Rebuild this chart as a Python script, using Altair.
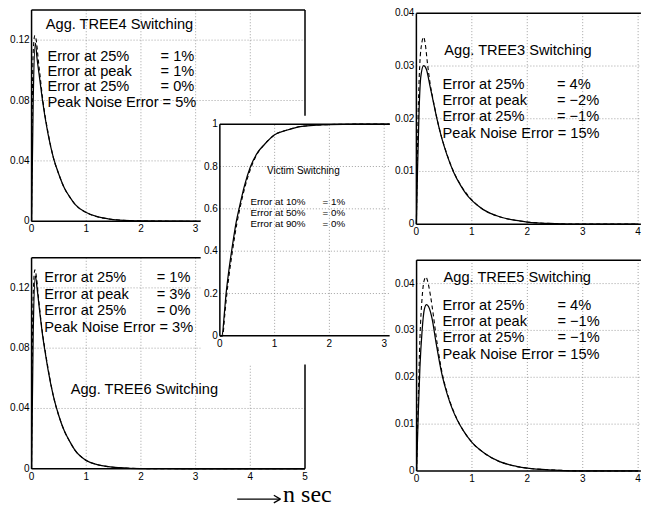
import altair as alt
import pandas as pd

# ---------------- data ----------------
# Agg. TREE4 panel
T4_SOLID_T = [0, 0.03, 0.07, 0.1, 0.15, 0.2, 0.3, 0.4, 0.5, 0.6, 0.7, 0.8, 1.0, 1.2, 1.4, 1.6, 1.8, 2.0, 2.5, 3.0, 4.0, 5.0]
T4_SOLID_V = [0, 0.08, 0.118, 0.108, 0.094, 0.08, 0.058, 0.042, 0.031, 0.022, 0.016, 0.011, 0.0058, 0.003, 0.0016, 0.0008, 0.0004, 0.0002, 0.00005, 0, 0, 0]
T4_DASH_T = [0, 0.01, 0.03, 0.06, 0.09, 0.12, 0.16, 0.2, 0.3, 0.4, 0.5, 0.6, 0.7, 0.8, 1.0, 1.2, 1.4, 1.6, 1.8, 2.0, 2.5, 3.0, 4.0, 5.0]
T4_DASH_V = [0, 0.06, 0.112, 0.123, 0.119, 0.108, 0.095, 0.082, 0.059, 0.042, 0.031, 0.022, 0.016, 0.011, 0.0058, 0.003, 0.0016, 0.0008, 0.0004, 0.0002, 0.00005, 0, 0, 0]

# Agg. TREE6 panel
T6_SOLID_T = [0, 0.03, 0.07, 0.1, 0.15, 0.2, 0.25, 0.3, 0.4, 0.5, 0.6, 0.7, 0.8, 1.0, 1.2, 1.4, 1.6, 1.8, 2.0, 2.5, 3.0, 4.0, 5.0]
T6_SOLID_V = [0, 0.09, 0.128, 0.12, 0.104, 0.089, 0.077, 0.066, 0.048, 0.035, 0.025, 0.018, 0.012, 0.0055, 0.0028, 0.0014, 0.0007, 0.0003, 0.00015, 0.00003, 0, 0, 0]
T6_DASH_T = [0, 0.01, 0.03, 0.06, 0.09, 0.12, 0.16, 0.2, 0.25, 0.3, 0.4, 0.5, 0.6, 0.7, 0.8, 1.0, 1.2, 1.4, 1.6, 1.8, 2.0, 2.5, 3.0, 4.0, 5.0]
T6_DASH_V = [0, 0.06, 0.115, 0.132, 0.127, 0.116, 0.102, 0.09, 0.078, 0.067, 0.048, 0.035, 0.025, 0.018, 0.012, 0.0055, 0.0028, 0.0014, 0.0007, 0.0003, 0.00015, 0.00003, 0, 0, 0]

# Agg. TREE3 panel
T3_SOLID_T = [0, 0.02, 0.05, 0.08, 0.13, 0.18, 0.25, 0.3, 0.37, 0.45, 0.55, 0.67, 0.8, 0.9, 1.0, 1.2, 1.5, 1.8, 2.0, 2.5, 3.0, 4.0]
T3_SOLID_V = [0, 0.01, 0.022, 0.028, 0.0301, 0.0294, 0.026, 0.0235, 0.02, 0.0166, 0.0132, 0.0099, 0.0073, 0.0057, 0.0045, 0.0028, 0.0014, 0.0007, 0.0004, 0.0001, 0, 0]
T3_DASH_T = [0, 0.03, 0.06, 0.1, 0.13, 0.16, 0.2, 0.25, 0.3, 0.37, 0.45, 0.55, 0.67, 0.8, 1.0, 1.2, 1.5, 1.8, 2.0, 2.5, 3.0, 4.0]
T3_DASH_V = [0, 0.02, 0.03, 0.0345, 0.0355, 0.0342, 0.0305, 0.0265, 0.0237, 0.0201, 0.0167, 0.0133, 0.01, 0.0074, 0.0046, 0.0028, 0.0014, 0.0007, 0.0004, 0.0001, 0, 0]

# Agg. TREE5 panel
T5_SOLID_T = [0, 0.03, 0.06, 0.1, 0.14, 0.18, 0.22, 0.28, 0.35, 0.46, 0.55, 0.65, 0.73, 0.85, 1.0, 1.2, 1.5, 1.8, 2.0, 2.5, 3.0, 4.0]
T5_SOLID_V = [0, 0.012, 0.022, 0.03, 0.0345, 0.0355, 0.035, 0.0325, 0.0275, 0.0205, 0.0165, 0.0131, 0.011, 0.0085, 0.0061, 0.004, 0.002, 0.001, 0.0006, 0.0002, 0, 0]
T5_DASH_T = [0, 0.03, 0.06, 0.1, 0.14, 0.17, 0.2, 0.25, 0.3, 0.35, 0.46, 0.55, 0.65, 0.73, 0.85, 1.0, 1.2, 1.5, 1.8, 2.0, 2.5, 3.0, 4.0]
T5_DASH_V = [0, 0.015, 0.028, 0.037, 0.0408, 0.0414, 0.0405, 0.0375, 0.0335, 0.029, 0.021, 0.0168, 0.0133, 0.0111, 0.0085, 0.0061, 0.004, 0.002, 0.001, 0.0006, 0.0002, 0, 0]

# Victim panel
V_SOLID_T = [0, 0.04, 0.08, 0.11, 0.15, 0.22, 0.3, 0.35, 0.45, 0.56, 0.7, 0.8, 1.0, 1.2, 1.5, 2.0, 2.5, 3.1]
V_SOLID_V = [0, 0, 0.1, 0.19, 0.28, 0.41, 0.54, 0.6, 0.71, 0.8, 0.87, 0.9, 0.95, 0.97, 0.99, 0.998, 1.0, 1.0]
V_DASH_T = [0, 0.05, 0.09, 0.12, 0.16, 0.23, 0.31, 0.36, 0.46, 0.57, 0.7, 0.8, 1.0, 1.2, 1.5, 2.0, 2.5, 3.1]
V_DASH_V = [0, 0, 0.1, 0.18, 0.27, 0.4, 0.53, 0.595, 0.705, 0.795, 0.868, 0.9, 0.95, 0.97, 0.99, 0.998, 1.0, 1.0]

# tick values
T4_XTICKS = [0, 1, 2, 3]
T6_XTICKS = [0, 1, 2, 3, 4, 5]
TREE_YTICKS = [0, 0.04, 0.08, 0.12]
V_XTICKS = [0, 1, 2, 3]
V_YTICKS = [0, 0.2, 0.4, 0.6, 0.8, 1]
R_XTICKS = [0, 1, 2, 3, 4]
R_YTICKS = [0, 0.01, 0.02, 0.03, 0.04]

# annotation texts
T4_ROWS = ["Error at 25%", "Error at peak", "Error at 25%"]
T4_VALS = ["= 1%", "= 1%", "= 0%"]
T4_PEAK = "Peak Noise Error = 5%"
T6_ROWS = ["Error at 25%", "Error at peak", "Error at 25%"]
T6_VALS = ["= 1%", "= 3%", "= 0%"]
T6_PEAK = "Peak Noise Error = 3%"
T3_ROWS = ["Error at 25%", "Error at peak", "Error at 25%"]
T3_VALS = ["= 4%", "= \u22122%", "= \u22121%"]
T3_PEAK = "Peak Noise Error = 15%"
T5_ROWS = ["Error at 25%", "Error at peak", "Error at 25%"]
T5_VALS = ["= 4%", "= \u22121%", "= \u22121%"]
T5_PEAK = "Peak Noise Error = 15%"
V_ROWS = ["Error at 10%", "Error at 50%", "Error at 90%"]
V_VALS = ["= 1%", "= 0%", "= 0%"]

# ---------------- layout ----------------
W, H = 636, 500
FONT = "Liberation Sans"


def X(ix):
    return round((ix - 10) * 0.99, 2)


def Y(iy):
    return round((iy - 9) * 0.968, 2)


def one_row():
    return alt.Data(values=[{"k": 0}])


def panel(cfg):
    sx = alt.Scale(domain=cfg["xdom"], range=[X(cfg["xpix"][0]), X(cfg["xpix"][1])], nice=False, zero=False)
    sy = alt.Scale(domain=cfg["ydom"], range=[Y(cfg["ypix"][0]), Y(cfg["ypix"][1])], nice=False, zero=False)
    x0, x1 = cfg["xdom"]
    y0, y1 = cfg["ydom"]
    bx0, bx1, by0, by1 = cfg.get("bg", (x0, x1, y0, y1))

    def enc_x(f):
        return alt.X(f, scale=sx, axis=None)

    def enc_y(f):
        return alt.Y(f, scale=sy, axis=None)

    layers = []
    layers.append(
        alt.Chart(one_row()).mark_rect(fill="white", strokeWidth=0).encode(
            x=alt.X(datum=bx0, scale=sx, axis=None), x2=alt.datum(bx1),
            y=alt.Y(datum=by0, scale=sy, axis=None), y2=alt.datum(by1))
    )
    grid_style = dict(color="#8c8c8c", strokeDash=[1, 2], strokeWidth=0.8)
    layers.append(
        alt.Chart(pd.DataFrame({"g": cfg["gridx"]})).mark_rule(**grid_style).encode(
            x=enc_x("g:Q"), y=alt.Y(datum=y0, scale=sy, axis=None), y2=alt.datum(y1))
    )
    layers.append(
        alt.Chart(pd.DataFrame({"g": cfg["gridy"]})).mark_rule(**grid_style).encode(
            y=enc_y("g:Q"), x=alt.X(datum=x0, scale=sx, axis=None), x2=alt.datum(x1))
    )
    st, sv = cfg["solid"]
    dt, dv = cfg["dash"]
    layers.append(
        alt.Chart(pd.DataFrame({"t": dt, "v": dv})).mark_line(
            color="black", strokeWidth=1.1, strokeDash=[4, 3], interpolate="monotone").encode(
            x=enc_x("t:Q"), y=enc_y("v:Q"))
    )
    layers.append(
        alt.Chart(pd.DataFrame({"t": st, "v": sv})).mark_line(
            color="black", strokeWidth=1.25, interpolate="monotone").encode(
            x=enc_x("t:Q"), y=enc_y("v:Q"))
    )
    segs = [(x0, x0, y0, y1), (x0, x1, y0, y0), (x0, x1, y1, y1)]
    if cfg["closed"]:
        segs.append((x1, x1, y0, y1))
    layers.append(
        alt.Chart(pd.DataFrame(segs, columns=["a", "a2", "b", "b2"])).mark_rule(
            color="black", strokeWidth=1.5).encode(
            x=enc_x("a:Q"), x2="a2:Q", y=enc_y("b:Q"), y2="b2:Q")
    )
    # tick labels (axes drawn as text through the panel scales)
    layers.append(
        alt.Chart(pd.DataFrame({"g": cfg["xticks"]})).mark_text(
            align="center", baseline="top", dy=3, font=FONT, fontSize=10, color="black").encode(
            x=enc_x("g:Q"), y=alt.Y(datum=y0, scale=sy, axis=None),
            text=alt.Text("g:Q", format="~g"))
    )
    layers.append(
        alt.Chart(pd.DataFrame({"g": cfg["yticks"]})).mark_text(
            align="right", baseline="middle", dx=-2, font=FONT, fontSize=10, color="black").encode(
            y=enc_y("g:Q"), x=alt.X(datum=x0, scale=sx, axis=None),
            text=alt.Text("g:Q", format="~g"))
    )
    for txt in cfg["texts"]:
        df = pd.DataFrame(txt["rows"], columns=["t", "v", "s"])
        layers.append(
            alt.Chart(df).mark_text(align="left", baseline=txt.get("baseline", "middle"),
                                    font=txt.get("font", FONT), fontSize=txt["size"],
                                    color="black").encode(
                x=enc_x("t:Q"), y=enc_y("v:Q"), text="s:N")
        )
    for seg in cfg.get("extra_rules", []):
        df = pd.DataFrame([seg], columns=["a", "a2", "b", "b2"])
        layers.append(
            alt.Chart(df).mark_rule(color="black", strokeWidth=1.3).encode(
                x=enc_x("a:Q"), x2="a2:Q", y=enc_y("b:Q"), y2="b2:Q")
        )
    return alt.layer(*layers)


def error_block(rows, vals, peak, tl, tv, vys, size):
    out = [(tl, vys[i], rows[i]) for i in range(3)]
    out += [(tv, vys[i], vals[i]) for i in range(3)]
    out.append((tl, vys[3], peak))
    return {"rows": out, "size": size}


BIG = 14.6

p4 = panel(dict(
    xdom=[0, 5], xpix=(33.8, 310), ydom=[0, 0.14], ypix=(229.3, 11),
    xticks=T4_XTICKS, yticks=TREE_YTICKS,
    gridx=[1, 2, 3, 4], gridy=[0.04, 0.08, 0.12], closed=True,
    solid=(T4_SOLID_T, T4_SOLID_V), dash=(T4_DASH_T, T4_DASH_V),
    texts=[
        {"rows": [(0.26, 0.1297, "Agg. TREE4 Switching")], "size": BIG},
        error_block(T4_ROWS, T4_VALS, T4_PEAK, 0.29, 2.36, [0.1086, 0.0990, 0.0887, 0.0781], BIG),
    ],
))

# arrow under TREE6 panel: shaft and open head, in the panel's own units
ARROW = [(3.76, 4.55, -0.0201, -0.0201), (4.43, 4.55, -0.0176, -0.0201), (4.43, 4.55, -0.0226, -0.0201)]

p6 = panel(dict(
    xdom=[0, 5], xpix=(33.8, 310), ydom=[0, 0.14], ypix=(485, 267),
    xticks=T6_XTICKS, yticks=TREE_YTICKS,
    gridx=[1, 2, 3, 4], gridy=[0.04, 0.08, 0.12], closed=True,
    solid=(T6_SOLID_T, T6_SOLID_V), dash=(T6_DASH_T, T6_DASH_V),
    texts=[
        error_block(T6_ROWS, T6_VALS, T6_PEAK, 0.234, 2.29, [0.1263, 0.1156, 0.1049, 0.0936], BIG),
        {"rows": [(0.715, 0.052, "Agg. TREE6 Switching")], "size": BIG},
        {"rows": [(4.6, -0.02235, "n sec")], "size": 24, "font": "Liberation Serif",
         "baseline": "alphabetic"},
    ],
    extra_rules=ARROW,
))

pv = panel(dict(
    xdom=[0, 3.1], xpix=(224, 395.5), ydom=[0, 1], ypix=(347.7, 129),
    xticks=V_XTICKS, yticks=V_YTICKS,
    gridx=[1, 2, 3], gridy=[0.2, 0.4, 0.6, 0.8], closed=False,
    bg=(-0.35, 3.5, -0.135, 1.04),
    solid=(V_SOLID_T, V_SOLID_V), dash=(V_DASH_T, V_DASH_V),
    texts=[
        {"rows": [(0.862, 0.779, "Victim Switching")], "size": 10},
        {"rows": [(0.56, v, r) for v, r in zip([0.633, 0.579, 0.530], V_ROWS)]
         + [(1.874, v, r) for v, r in zip([0.633, 0.579, 0.530], V_VALS)], "size": 9.8},
    ],
))

p3 = panel(dict(
    xdom=[0, 4.05], xpix=(422.5, 649.3), ydom=[0, 0.04], ypix=(232.3, 14.5),
    xticks=R_XTICKS, yticks=R_YTICKS,
    gridx=[1, 2, 3, 4], gridy=[0.01, 0.02, 0.03], closed=False,
    solid=(T3_SOLID_T, T3_SOLID_V), dash=(T3_DASH_T, T3_DASH_V),
    texts=[
        {"rows": [(0.504, 0.0329, "Agg. TREE3 Switching")], "size": BIG},
        error_block(T3_ROWS, T3_VALS, T3_PEAK, 0.473, 2.536, [0.02645, 0.02338, 0.02031, 0.01708], BIG),
    ],
))

p5 = panel(dict(
    xdom=[0, 4.05], xpix=(422.7, 649.3), ydom=[0, 0.045], ypix=(487.3, 269.5),
    xticks=R_XTICKS, yticks=R_YTICKS,
    gridx=[1, 2, 3, 4], gridy=[0.01, 0.02, 0.03, 0.04], closed=False,
    solid=(T5_SOLID_T, T5_SOLID_V), dash=(T5_DASH_T, T5_DASH_V),
    texts=[
        {"rows": [(0.488, 0.04112, "Agg. TREE5 Switching")], "size": BIG},
        error_block(T5_ROWS, T5_VALS, T5_PEAK, 0.47, 2.543, [0.03525, 0.03182, 0.02837, 0.02479], BIG),
    ],
))

chart = alt.layer(p4, p6, pv, p3, p5).resolve_scale(
    x="independent", y="independent"
).properties(
    width=W, height=H, padding=0, autosize=alt.AutoSizeParams(type="none")
).configure_view(strokeWidth=0)

chart.save("out.html", embed_options={"renderer": "svg", "actions": False})
